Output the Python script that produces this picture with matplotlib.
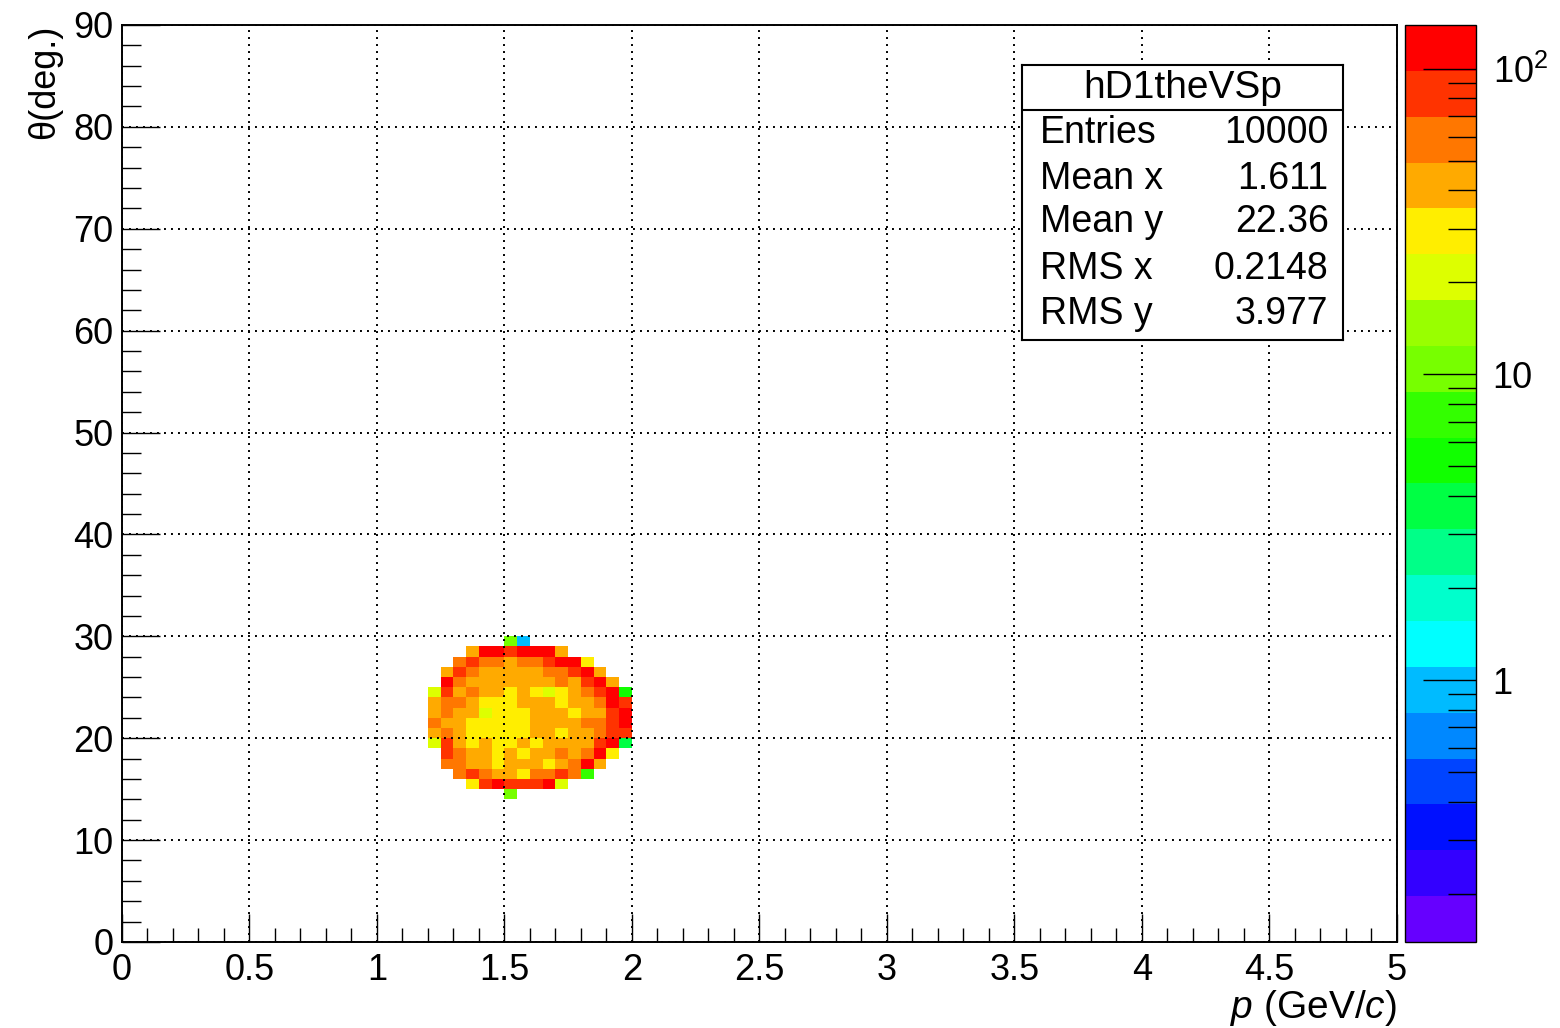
import numpy as np
import matplotlib
matplotlib.use('Agg')
import matplotlib.pyplot as plt
from matplotlib.colors import ListedColormap, LogNorm
from matplotlib.ticker import MultipleLocator, FixedLocator, FixedFormatter, NullFormatter

plt.rcParams['font.family'] = ['Liberation Sans', 'DejaVu Sans']
plt.rcParams['mathtext.fontset'] = 'custom'
plt.rcParams['mathtext.rm'] = 'Liberation Sans'
plt.rcParams['mathtext.it'] = 'Liberation Sans:italic'

# bin edges of the filled part of the histogram (0.05 GeV/c x 1 deg bins)
x_edges = [1.20, 1.25, 1.30, 1.35, 1.40, 1.45, 1.50, 1.55, 1.60,
           1.65, 1.70, 1.75, 1.80, 1.85, 1.90, 1.95, 2.00]
y_edges = [14, 15, 16, 17, 18, 19, 20, 21, 22, 23, 24, 25, 26, 27, 28, 29, 30]

# bin contents, rows from theta=14 (bottom) to theta=29 (top)
counts = [
    [0, 0, 0, 0, 0, 0, 11, 0, 0, 0, 0, 0, 0, 0, 0, 0],
    [0, 0, 0, 30, 82, 108, 82, 82, 82, 108, 21, 0, 0, 0, 0, 0],
    [0, 0, 58, 82, 58, 42, 42, 30, 58, 58, 82, 58, 7, 0, 0, 0],
    [0, 58, 58, 42, 42, 30, 42, 42, 42, 30, 42, 58, 108, 42, 0, 0],
    [0, 82, 58, 42, 42, 30, 42, 30, 42, 42, 58, 42, 58, 108, 30, 0],
    [21, 82, 42, 30, 42, 30, 30, 42, 30, 42, 42, 42, 42, 82, 108, 4],
    [42, 58, 42, 30, 30, 30, 30, 30, 42, 42, 30, 42, 42, 58, 82, 82],
    [58, 42, 42, 30, 30, 30, 30, 30, 42, 42, 42, 42, 58, 58, 82, 108],
    [42, 58, 42, 42, 21, 30, 30, 30, 42, 42, 42, 30, 42, 42, 82, 108],
    [42, 58, 58, 42, 30, 30, 30, 42, 42, 42, 30, 42, 42, 58, 108, 82],
    [21, 82, 42, 58, 42, 42, 30, 42, 30, 21, 30, 42, 58, 82, 108, 5],
    [0, 108, 58, 42, 42, 42, 42, 42, 42, 42, 58, 42, 82, 108, 42, 0],
    [0, 42, 82, 58, 42, 42, 42, 42, 42, 58, 58, 82, 108, 42, 0, 0],
    [0, 0, 58, 82, 58, 58, 42, 58, 58, 82, 108, 108, 30, 0, 0, 0],
    [0, 0, 0, 45, 108, 108, 82, 108, 108, 108, 45, 0, 0, 0, 0, 0],
    [0, 0, 0, 0, 0, 0, 11, 1, 0, 0, 0, 0, 0, 0, 0, 0],
]

z_min, z_max = 0.139, 139.0

# ROOT rainbow palette, 20 contour levels (bottom to top)
palette = ['#6600ff', '#3300ff', '#0010ff', '#0044ff', '#0088ff',
           '#00bbff', '#00ffff', '#00ffcc', '#00ff88', '#00ff44',
           '#11ff00', '#33ff00', '#77ff00', '#99ff00', '#ddff00',
           '#ffee00', '#ffaa00', '#ff7700', '#ff3300', '#ff0000']

stats_title = 'hD1theVSp'
stats_names = ['Entries', 'Mean x', 'Mean y', 'RMS x', 'RMS y']
stats_values = ['10000', '1.611', '22.36', '0.2148', '3.977']

fig = plt.figure(figsize=(15.6, 10.28), dpi=100)
ax = fig.add_axes([0.0782, 0.0837, 0.8173, 0.8920])

cmap = ListedColormap(palette)
norm = LogNorm(vmin=z_min, vmax=z_max)
z = np.ma.masked_less_equal(np.array(counts, dtype=float), 0)
mesh = ax.pcolormesh(x_edges, y_edges, z, cmap=cmap, norm=norm, zorder=1)

ax.set_xlim(0, 5)
ax.set_ylim(0, 90)
ax.xaxis.set_major_locator(MultipleLocator(0.5))
ax.xaxis.set_minor_locator(MultipleLocator(0.1))
ax.yaxis.set_major_locator(MultipleLocator(10))
ax.yaxis.set_minor_locator(MultipleLocator(2))
ax.xaxis.set_major_formatter(plt.FuncFormatter(lambda v, p: f'{v:g}'))

ax.tick_params(axis='both', which='both', direction='in', top=False, right=False,
               width=1.0, labelsize=26, color='black')
ax.tick_params(axis='x', which='major', length=20, pad=8)
ax.tick_params(axis='x', which='minor', length=10)
ax.tick_params(axis='y', which='major', length=27, pad=6)
ax.tick_params(axis='y', which='minor', length=14)

ax.grid(True, which='major', color='black', linestyle=(0, (1, 2.6)), linewidth=1.4, zorder=2)
ax.set_axisbelow(False)
for s in ax.spines.values():
    s.set_linewidth(1.4)

ax.set_xlabel(r'$\it{p}$ (GeV/$\it{c}$)', fontsize=28, loc='right', labelpad=0)
ax.set_ylabel('θ(deg.)', fontsize=26, loc='top', labelpad=8)

# colour scale
cax = fig.add_axes([1405 / 1560, 0.0837, 71 / 1560, 0.8920])
cb = fig.colorbar(mesh, cax=cax)
cb.outline.set_linewidth(1.0)
cax.yaxis.set_major_locator(FixedLocator([1, 10, 100]))
cax.yaxis.set_major_formatter(FixedFormatter(['1', '10', r'$10^{2}$']))
minor = [m * d for d in (0.1, 1, 10) for m in range(2, 10)]
cax.yaxis.set_minor_locator(FixedLocator([v for v in minor if z_min < v < z_max]))
cax.yaxis.set_minor_formatter(NullFormatter())
cax.tick_params(axis='y', which='both', direction='in', right=True, left=False,
                labelright=True, labelleft=False, width=1.0, labelsize=26)
cax.tick_params(axis='y', which='major', length=38, pad=12)
cax.tick_params(axis='y', which='minor', length=20)

# statistics box
sb = fig.add_axes([1022 / 1560, (1028 - 340) / 1028, 321 / 1560, 275 / 1028])
sb.set_xlim(0, 1)
sb.set_ylim(0, 1)
sb.set_xticks([])
sb.set_yticks([])
sb.set_facecolor('white')
for s in sb.spines.values():
    s.set_linewidth(1.5)
sb.axhline(0.836, color='black', linewidth=1.5)
sb.text(0.5, 0.918, stats_title, ha='center', va='center', fontsize=28)
rows_y = [0.753, 0.584, 0.43, 0.258, 0.093]
for name, val, yy in zip(stats_names, stats_values, rows_y):
    sb.text(0.055, yy, name, ha='left', va='center', fontsize=27)
    sb.text(0.955, yy, val, ha='right', va='center', fontsize=27)

fig.savefig('out.png', dpi=100)
